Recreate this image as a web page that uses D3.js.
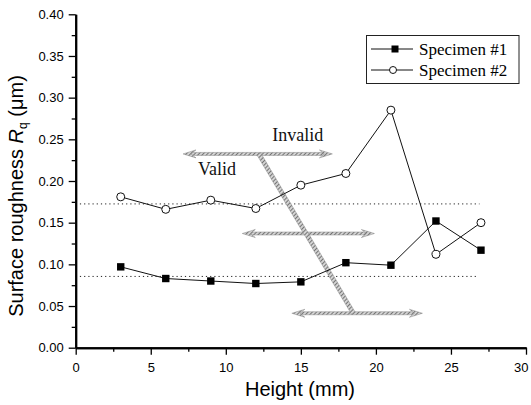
<!DOCTYPE html>
<html>
<head>
<meta charset="utf-8">
<script src="https://cdn.jsdelivr.net/npm/d3@7"></script>
<style>
  html, body { margin: 0; padding: 0; background: #fff; }
  svg { display: block; }
</style>
</head>
<body>
<div id="chart"></div>
<script>
// ---- data ----
const heights = [3, 6, 9, 12, 15, 18, 21, 24, 27];
const specimen1 = [0.097, 0.083, 0.080, 0.077, 0.079, 0.102, 0.099, 0.152, 0.117];
const specimen2 = [0.181, 0.166, 0.177, 0.167, 0.195, 0.209, 0.285, 0.112, 0.150];
const seriesNames = ["Specimen #1", "Specimen #2"];
const xTicks = [0, 5, 10, 15, 20, 25, 30];
const yTicks = [0, 0.05, 0.10, 0.15, 0.20, 0.25, 0.30, 0.35, 0.40];
// dotted reference levels [y, xEnd]
const refLevels = [0.1725, 0.0855];
const refEnds = [26.9, 26.7];
// annotation arrows (data units): [x1, x2, y]
const arrowX1 = [7.15, 11.1, 14.4];
const arrowX2 = [17.1, 19.9, 23.1];
const arrowY = [0.2325, 0.137, 0.0413];
// diagonal boundary band
const diagX = [12.2, 18.5];
const diagY = [0.2325, 0.0413];
const annoText = ["Invalid", "Valid"];
const annoX = [13.1, 8.15];
const annoY = [0.248, 0.207];

// ---- setup ----
const W = 531, H = 405;
const svg = d3.select("#chart").append("svg").attr("width", W).attr("height", H);
const x = d3.scaleLinear().domain([0, 30]).range([75.7, 526]);
const y = d3.scaleLinear().domain([0, 0.4]).range([347.7, 14.3]);
const serif = "'Liberation Serif', 'DejaVu Serif', 'Times New Roman', Times, serif";
const axFont = "'Liberation Sans', Arial, Helvetica, sans-serif";

const defs = svg.append("defs");
const pat = defs.append("pattern").attr("id", "hatch").attr("patternUnits", "userSpaceOnUse")
  .attr("width", 3).attr("height", 3).attr("patternTransform", "rotate(45)");
pat.append("rect").attr("width", 3).attr("height", 3).attr("fill", "#d4d4d4");
pat.append("line").attr("x1", 0).attr("y1", 0).attr("x2", 0).attr("y2", 3).attr("stroke", "#4a4a4a").attr("stroke-width", 1.4);

// ---- dotted reference lines ----
refLevels.forEach((v, i) => {
  svg.append("line").attr("x1", x(0)).attr("x2", x(refEnds[i]))
    .attr("y1", y(v)).attr("y2", y(v))
    .attr("stroke", "#222").attr("stroke-width", 1).attr("stroke-dasharray", "1.2,3");
});

// ---- annotation arrows ----
function band(x1, y1, x2, y2, w) {
  const dx = x2 - x1, dy = y2 - y1, L = Math.hypot(dx, dy);
  const nx = -dy / L * w / 2, ny = dx / L * w / 2;
  return [[x1 + nx, y1 + ny], [x2 + nx, y2 + ny], [x2 - nx, y2 - ny], [x1 - nx, y1 - ny]];
}
function head(px, py, ux, uy) {
  const nx = -uy, ny = ux, len = 13, half = 4, notch = 8;
  return [[px, py], [px - len * ux + half * nx, py - len * uy + half * ny],
          [px - notch * ux, py - notch * uy],
          [px - len * ux - half * nx, py - len * uy - half * ny]];
}
const anno = svg.append("g");
function poly(pts) {
  anno.append("polygon").attr("points", pts.map(p => p.join(",")).join(" "))
    .attr("fill", "url(#hatch)").attr("stroke", "#888").attr("stroke-width", 0.5);
}
arrowY.forEach((v, i) => {
  const x1 = x(arrowX1[i]), x2 = x(arrowX2[i]), yy = y(v);
  poly(band(x1 + 8, yy, x2 - 8, yy, 3));
  poly(head(x1, yy, -1, 0));
  poly(head(x2, yy, 1, 0));
});
poly(band(x(diagX[0]), y(diagY[0]), x(diagX[1]), y(diagY[1]), 4.2));

anno.selectAll("text.anno").data(annoText).enter().append("text")
  .attr("x", (d, i) => x(annoX[i])).attr("y", (d, i) => y(annoY[i]))
  .attr("font-family", serif)
  .attr("font-size", 18).attr("fill", "#111").text(d => d);

// ---- series ----
const line = d3.line().x((d, i) => x(heights[i])).y(d => y(d));
svg.append("path").datum(specimen1).attr("d", line).attr("fill", "none").attr("stroke", "#111").attr("stroke-width", 1);
svg.append("path").datum(specimen2).attr("d", line).attr("fill", "none").attr("stroke", "#111").attr("stroke-width", 1);
svg.selectAll("rect.s1").data(specimen1).enter().append("rect")
  .attr("x", (d, i) => x(heights[i]) - 3.7).attr("y", d => y(d) - 3.7)
  .attr("width", 7.4).attr("height", 7.4).attr("fill", "#000");
svg.selectAll("circle.s2").data(specimen2).enter().append("circle")
  .attr("cx", (d, i) => x(heights[i])).attr("cy", d => y(d)).attr("r", 4)
  .attr("fill", "#fff").attr("stroke", "#111").attr("stroke-width", 1);

// ---- axes ----
const gx = svg.append("g").attr("transform", `translate(0,${y(0)})`)
  .call(d3.axisBottom(x).tickValues(xTicks).tickFormat(d3.format("d")).tickSize(7).tickPadding(8).tickSizeOuter(0));
const gxm = svg.append("g").attr("transform", `translate(0,${y(0)})`)
  .call(d3.axisBottom(x).tickValues(d3.range(2.5, 30, 5)).tickFormat("").tickSize(4).tickSizeOuter(0));
const gy = svg.append("g").attr("transform", `translate(${x(0)},0)`)
  .call(d3.axisLeft(y).tickValues(yTicks).tickFormat(d3.format(".2f")).tickSize(7).tickPadding(5).tickSizeOuter(0));
const gym = svg.append("g").attr("transform", `translate(${x(0)},0)`)
  .call(d3.axisLeft(y).tickValues(d3.range(0.025, 0.4, 0.05)).tickFormat("").tickSize(4).tickSizeOuter(0));
[gx, gxm, gy, gym].forEach(g => {
  g.select(".domain").attr("stroke", "#000").attr("stroke-width", 2);
  g.selectAll(".tick line").attr("stroke", "#000").attr("stroke-width", 1.3);
  g.selectAll(".tick text").attr("font-family", axFont).attr("font-size", 13).attr("fill", "#000");
});
// keep the last x label inside the window
gx.selectAll(".tick text").filter(d => d === 30).attr("text-anchor", "end").attr("dx", "0.15em");

// axis titles
svg.append("text").attr("x", 300).attr("y", 395.5).attr("text-anchor", "middle")
  .attr("font-family", axFont).attr("font-size", 20).attr("fill", "#000").text("Height (mm)");
const yt = svg.append("text").attr("transform", "translate(22.5,196) rotate(-90)")
  .attr("text-anchor", "middle").attr("font-family", axFont).attr("font-size", 20).attr("fill", "#000");
yt.append("tspan").text("Surface roughness ");
yt.append("tspan").attr("font-style", "italic").text("R");
yt.append("tspan").attr("font-size", 12).attr("dy", "0.35em").text("q");
yt.append("tspan").attr("dy", "-0.2em").text(" (μm)");

// ---- legend ----
const lg = svg.append("g");
lg.append("rect").attr("x", 366.5).attr("y", 35.5).attr("width", 152.5).attr("height", 48)
  .attr("fill", "#fff").attr("stroke", "#222").attr("stroke-width", 1);
seriesNames.forEach((name, i) => {
  const cy = 49 + i * 21;
  lg.append("line").attr("x1", 371).attr("x2", 413).attr("y1", cy).attr("y2", cy)
    .attr("stroke", "#111").attr("stroke-width", 1);
  if (i === 0) {
    lg.append("rect").attr("x", 391.5).attr("y", cy - 3.5).attr("width", 7).attr("height", 7).attr("fill", "#000");
  } else {
    lg.append("circle").attr("cx", 393).attr("cy", cy).attr("r", 3.5).attr("fill", "#fff").attr("stroke", "#111");
  }
  lg.append("text").attr("x", 419).attr("y", cy + 5.5).attr("font-family", serif)
    .attr("font-size", 17).attr("fill", "#000").text(name);
});
</script>
</body>
</html>
